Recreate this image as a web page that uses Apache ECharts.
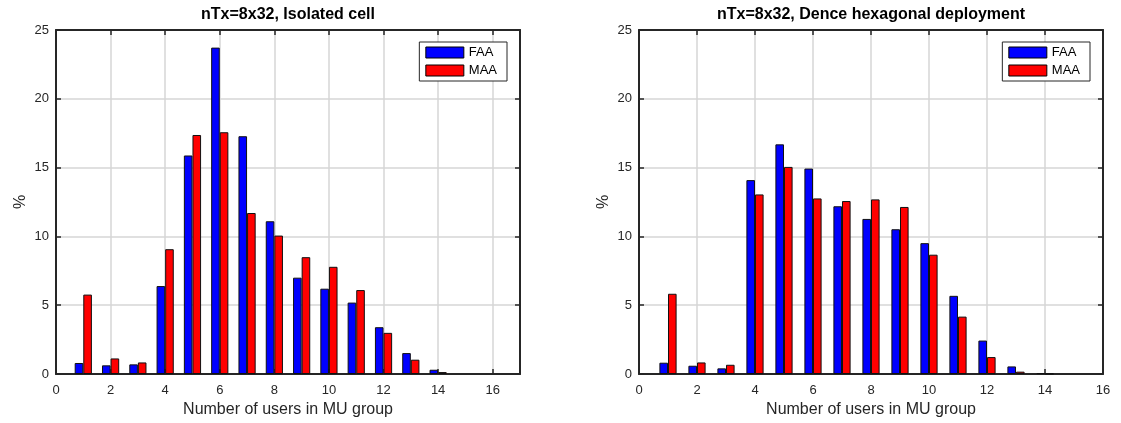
<!DOCTYPE html>
<html>
<head>
<meta charset="utf-8">
<script src="https://cdn.jsdelivr.net/npm/echarts@6/dist/echarts.min.js"></script>
<style>
  html, body { margin: 0; padding: 0; background: #fff; }
  #chart { width: 1121px; height: 423px; }
</style>
</head>
<body>
<div id="chart"></div>
<script>
// Group sizes (number of users in a MU group)
const groupSizes = [1, 2, 3, 4, 5, 6, 7, 8, 9, 10, 11, 12, 13, 14];

// Isolated cell, share of groups in %
const isolatedFAA = [0.80, 0.63, 0.70, 6.39, 15.88, 23.72, 17.28, 11.10, 7.00, 6.20, 5.19, 3.40, 1.52, 0.31];
const isolatedMAA = [5.77, 1.13, 0.84, 9.07, 17.37, 17.57, 11.70, 10.06, 8.49, 7.79, 6.10, 2.99, 1.04, 0.14];

// Dense hexagonal deployment, share of groups in %
const denseFAA = [0.82, 0.60, 0.41, 14.09, 16.69, 14.93, 12.19, 11.27, 10.52, 9.51, 5.68, 2.43, 0.55, 0.07];
const denseMAA = [5.83, 0.84, 0.67, 13.05, 15.05, 12.76, 12.57, 12.69, 12.14, 8.67, 4.17, 1.23, 0.17, 0.02];

const yTicks = { min: 0, max: 25, interval: 5 };
const seriesNames = ['FAA', 'MAA'];
const panelTitles = ['nTx=8x32, Isolated cell', 'nTx=8x32, Dence hexagonal deployment'];
const xTitle = 'Number of users in MU group';
const yTitle = '%';

const FONT = '"Liberation Sans", Arial, Helvetica, sans-serif';
const INK = '#262626';
const GRIDLINE = '#d6d6d6';

const panels = [
  { left: 56, width: 464, xMax: 17, faa: isolatedFAA, maa: isolatedMAA, legendRight: 614 },
  { left: 639, width: 464, xMax: 16, faa: denseFAA, maa: denseMAA, legendRight: 31 }
];

const pairs = (vals) => groupSizes.map((x, i) => [x, vals[i]]);

const option = {
  animation: false,
  backgroundColor: '#fff',
  textStyle: { fontFamily: FONT },
  grid: [], xAxis: [], yAxis: [], series: [], legend: []
};

panels.forEach((p, k) => {
  option.grid.push({ left: p.left, top: 30, width: p.width, height: 345 });
  const frameLine = { show: true, onZero: false, lineStyle: { color: INK, width: 2 } };
  const innerTick = { show: true, inside: true, length: 5, lineStyle: { color: INK, width: 1.5 } };

  // bottom x axis with labels and grid lines
  option.xAxis.push({
    type: 'value', gridIndex: k, position: 'bottom',
    min: 0, max: p.xMax, interval: 2,
    axisLine: frameLine, axisTick: innerTick,
    axisLabel: { color: INK, fontSize: 13, margin: 10, showMaxLabel: p.xMax % 2 === 0, fontFamily: FONT },
    splitLine: { show: true, lineStyle: { color: GRIDLINE, width: 1.5 } },
    name: xTitle, nameLocation: 'middle', nameGap: 28,
    nameTextStyle: { color: INK, fontSize: 16, fontFamily: FONT }
  });
  // top frame edge, carrying the panel title
  option.xAxis.push({
    type: 'value', gridIndex: k, position: 'top',
    min: 0, max: p.xMax, interval: 2,
    axisLine: frameLine, axisTick: innerTick,
    axisLabel: { show: false }, splitLine: { show: false },
    name: panelTitles[k], nameLocation: 'middle', nameGap: 7,
    nameTextStyle: { color: '#000', fontSize: 16, fontWeight: 'bold', fontFamily: FONT }
  });
  // left y axis
  option.yAxis.push({
    type: 'value', gridIndex: k, position: 'left',
    min: yTicks.min, max: yTicks.max, interval: yTicks.interval,
    axisLine: frameLine, axisTick: innerTick,
    axisLabel: { color: INK, fontSize: 13, margin: 7, fontFamily: FONT },
    splitLine: { show: true, lineStyle: { color: GRIDLINE, width: 1.5 } },
    name: yTitle, nameLocation: 'middle', nameGap: 27,
    nameTextStyle: { color: INK, fontSize: 16, fontFamily: FONT }
  });
  // right frame edge
  option.yAxis.push({
    type: 'value', gridIndex: k, position: 'right',
    min: yTicks.min, max: yTicks.max, interval: yTicks.interval,
    axisLine: frameLine, axisTick: innerTick,
    axisLabel: { show: false }, splitLine: { show: false }
  });

  const barW = 8.6;
  const xi = k * 2, yi = k * 2;
  [[p.faa, '#0000ff'], [p.maa, '#ff0000']].forEach(([vals, color], s) => {
    option.series.push({
      type: 'bar', name: seriesNames[s],
      xAxisIndex: xi, yAxisIndex: yi,
      data: pairs(vals),
      barWidth: barW, barGap: '0%',
      itemStyle: { color: color, borderColor: '#111', borderWidth: 1 },
      z: 3
    });
  });

  option.legend.push({
    data: seriesNames, orient: 'vertical',
    right: p.legendRight, top: 42,
    icon: 'rect', itemWidth: 38, itemHeight: 11, itemGap: 5,
    padding: [4, 10, 4, 6],
    backgroundColor: '#fff', borderColor: INK, borderWidth: 1,
    textStyle: { color: '#000', fontSize: 13, fontFamily: FONT },
    itemStyle: { borderColor: '#000', borderWidth: 1 },
    selectedMode: false
  });
});

const chart = echarts.init(document.getElementById('chart'), null, { renderer: 'canvas' });
chart.setOption(option);
</script>
</body>
</html>
